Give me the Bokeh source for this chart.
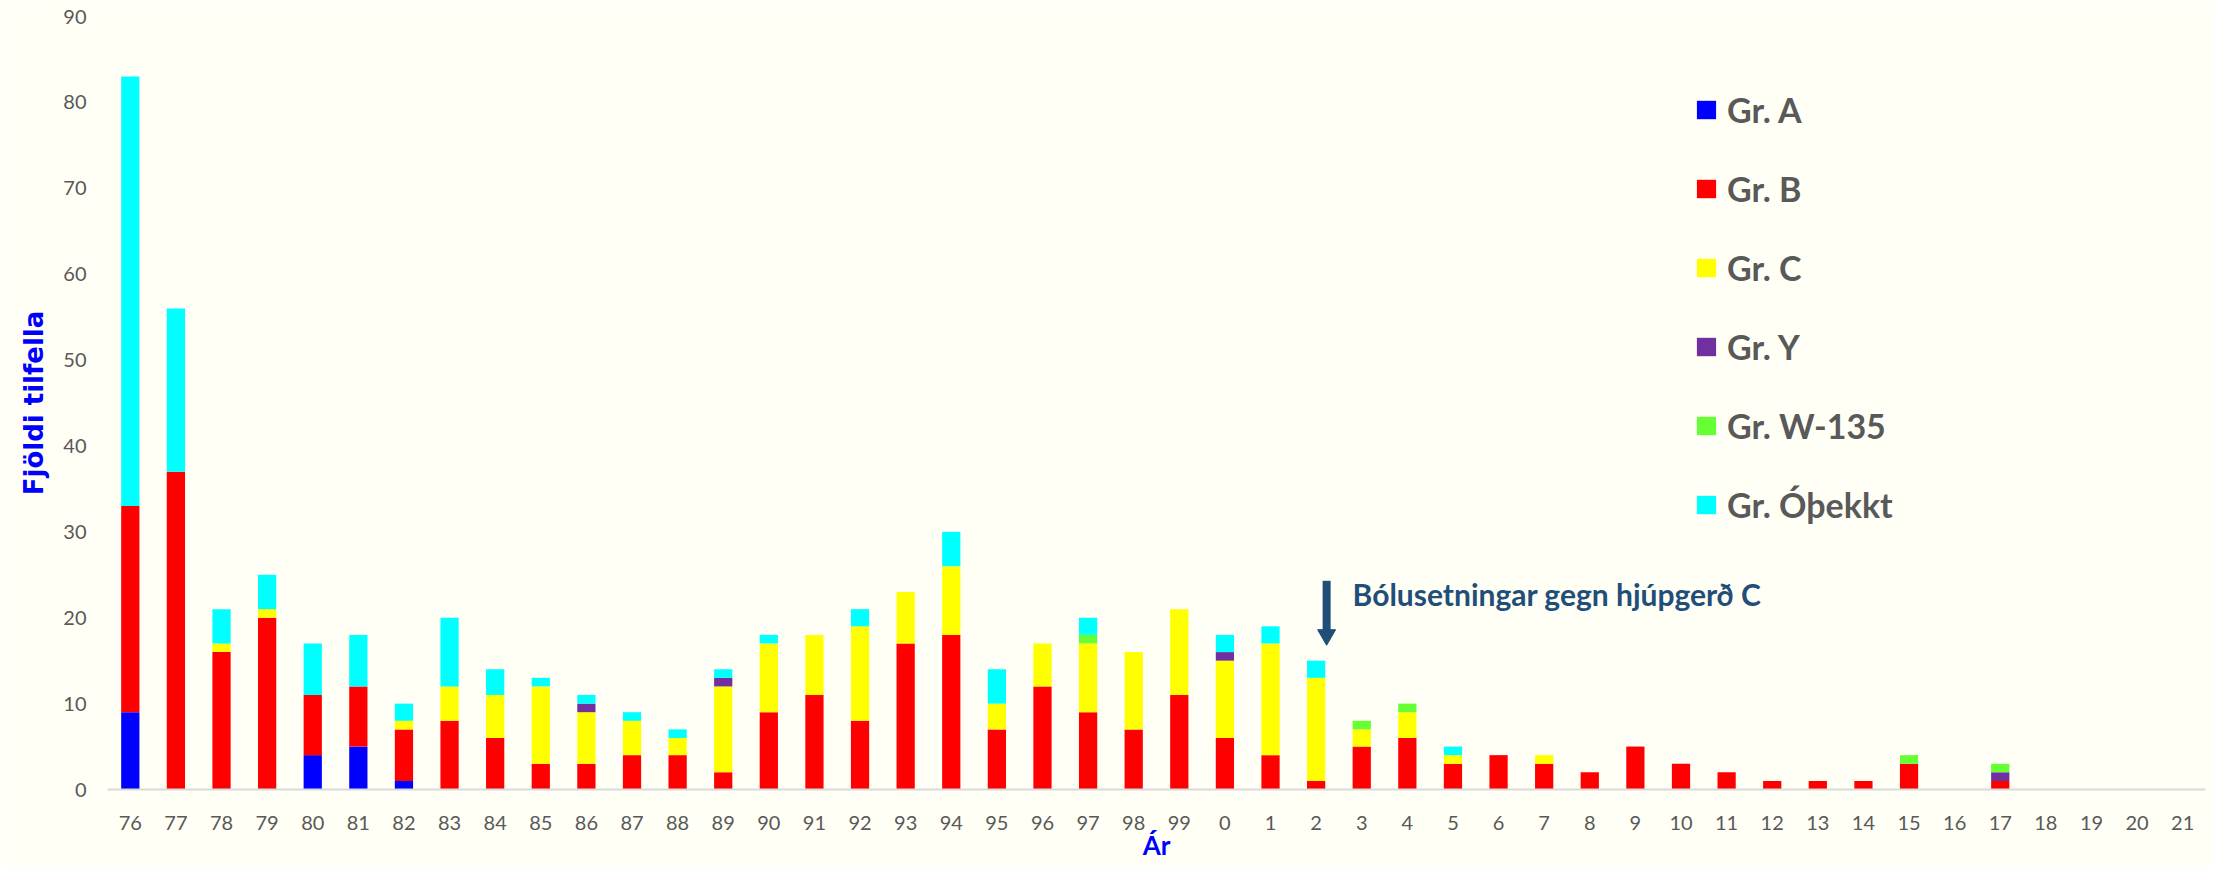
from bokeh.plotting import figure
from bokeh.models import (ColumnDataSource, FactorRange, Range1d, SingleIntervalTicker,
                          Legend, LegendItem)
from bokeh.transform import dodge
from bokeh.core.properties import value
from bokeh.embed import file_html
from bokeh.resources import INLINE

# ---------------- data ----------------
years = ["76", "77", "78", "79", "80", "81", "82", "83", "84", "85", "86", "87",
         "88", "89", "90", "91", "92", "93", "94", "95", "96", "97", "98", "99",
         "0", "1", "2", "3", "4", "5", "6", "7", "8", "9", "10", "11", "12", "13",
         "14", "15", "16", "17", "18", "19", "20", "21"]

gr_a = [9, 0, 0, 0, 4, 5, 1, 0, 0, 0, 0, 0, 0, 0, 0, 0, 0, 0, 0, 0, 0, 0, 0, 0,
        0, 0, 0, 0, 0, 0, 0, 0, 0, 0, 0, 0, 0, 0, 0, 0, 0, 0, 0, 0, 0, 0]
gr_b = [24, 37, 16, 20, 7, 7, 6, 8, 6, 3, 3, 4, 4, 2, 9, 11, 8, 17, 18, 7, 12, 9, 7, 11,
        6, 4, 1, 5, 6, 3, 4, 3, 2, 5, 3, 2, 1, 1, 1, 3, 0, 1, 0, 0, 0, 0]
gr_c = [0, 0, 1, 1, 0, 0, 1, 4, 5, 9, 6, 4, 2, 10, 8, 7, 11, 6, 8, 3, 5, 8, 9, 10,
        9, 13, 12, 2, 3, 1, 0, 1, 0, 0, 0, 0, 0, 0, 0, 0, 0, 0, 0, 0, 0, 0]
gr_y = [0, 0, 0, 0, 0, 0, 0, 0, 0, 0, 1, 0, 0, 1, 0, 0, 0, 0, 0, 0, 0, 0, 0, 0,
        1, 0, 0, 0, 0, 0, 0, 0, 0, 0, 0, 0, 0, 0, 0, 0, 0, 1, 0, 0, 0, 0]
gr_w = [0, 0, 0, 0, 0, 0, 0, 0, 0, 0, 0, 0, 0, 0, 0, 0, 0, 0, 0, 0, 0, 1, 0, 0,
        0, 0, 0, 1, 1, 0, 0, 0, 0, 0, 0, 0, 0, 0, 0, 1, 0, 1, 0, 0, 0, 0]
gr_u = [50, 19, 4, 4, 6, 6, 2, 8, 3, 1, 1, 1, 1, 1, 1, 0, 2, 0, 4, 4, 0, 2, 0, 0,
        2, 2, 2, 0, 0, 1, 0, 0, 0, 0, 0, 0, 0, 0, 0, 0, 0, 0, 0, 0, 0, 0]

series_keys = ["a", "b", "c", "y", "w", "u"]
series_names = ["Gr. A", "Gr. B", "Gr. C", "Gr. Y", "Gr. W-135", "Gr. Óþekkt"]
series_colors = ["#0000FF", "#FF0000", "#FFFF00", "#7030A0", "#66FF33", "#00FFFF"]

y_ticks_interval = 10
y_max = 90

# annotation (vaccination)
note_year = ["2"]
note_text = ["Bólusetningar gegn hjúpgerð C"]
note_arrow_top = [24.3]
note_arrow_head = [18.0]
note_text_y = [22.8]

# ---------------- figure ----------------
BG = "#FFFFF6"
GRAY = "#595959"
NAVY = "#1F4E79"

source = ColumnDataSource(dict(year=years, a=gr_a, b=gr_b, c=gr_c, y=gr_y, w=gr_w, u=gr_u))

p = figure(x_range=FactorRange(*years), y_range=Range1d(0, y_max),
           width=2213, height=866, output_backend="svg", toolbar_location=None,
           min_border_left=107, min_border_right=8, min_border_top=16, min_border_bottom=77,
           background_fill_color=BG, border_fill_color=BG, outline_line_color=None)

renderers = p.vbar_stack(series_keys, x="year", width=0.4, fill_color=series_colors,
                         line_color=None, source=source)

# grid / axes
p.xgrid.grid_line_color = None
p.ygrid.grid_line_color = None

p.yaxis.ticker = SingleIntervalTicker(interval=y_ticks_interval)
p.yaxis.axis_line_color = None
p.yaxis.major_tick_line_color = None
p.yaxis.minor_tick_line_color = None
p.yaxis.major_tick_out = 0
p.yaxis.minor_tick_out = 0
p.yaxis.major_label_standoff = 21
p.yaxis.major_label_text_font = "Lato"
p.yaxis.major_label_text_font_size = "20px"
p.yaxis.major_label_text_color = GRAY
p.yaxis.axis_label = "Fjöldi tilfella"
p.yaxis.axis_label_text_font = "DejaVu Sans"
p.yaxis.axis_label_text_font_style = "bold"
p.yaxis.axis_label_text_font_size = "26px"
p.yaxis.axis_label_text_color = "#0000FF"
p.yaxis.axis_label_standoff = 11

p.xaxis.axis_line_color = "#D9D9D9"
p.xaxis.axis_line_width = 2
p.xaxis.major_tick_line_color = None
p.xaxis.minor_tick_line_color = None
p.xaxis.major_tick_out = 0
p.xaxis.major_tick_in = 0
p.xaxis.major_label_standoff = 26
p.xaxis.major_label_text_font = "Lato"
p.xaxis.major_label_text_font_size = "20px"
p.xaxis.major_label_text_color = GRAY
p.xaxis.axis_label = "Ár"
p.xaxis.axis_label_text_font = "Lato"
p.xaxis.axis_label_text_font_style = "bold"
p.xaxis.axis_label_text_font_size = "26px"
p.xaxis.axis_label_text_color = "#0000FF"
p.xaxis.axis_label_standoff = -4

# legend
legend = Legend(items=[LegendItem(label=n, renderers=[r]) for n, r in zip(series_names, renderers)],
                location=(1587, 264), orientation="vertical",
                glyph_width=24, glyph_height=23, label_standoff=9, spacing=38,
                padding=0, margin=0, border_line_color=None, background_fill_alpha=0,
                label_text_font="Lato", label_text_font_style="bold",
                label_text_font_size="34px", label_text_color=GRAY, label_height=23)
p.add_layout(legend)

# annotation: arrow + text
note = ColumnDataSource(dict(x=note_year, top=note_arrow_top, head=note_arrow_head,
                             ty=note_text_y, label=note_text))
p.segment(x0=dodge("x", 0.23, range=p.x_range), y0="top",
          x1=dodge("x", 0.23, range=p.x_range), y1="head",
          line_width=8, line_color=NAVY, line_cap="butt", source=note)
p.scatter(x=dodge("x", 0.23, range=p.x_range), y="head", marker="inverted_triangle",
          size=18, fill_color=NAVY, line_color=NAVY, source=note)
p.text(x=dodge("x", 0.80, range=p.x_range), y="ty", text="label",
       text_font=value("Lato"), text_font_style="bold", text_font_size="30px",
       text_color=NAVY, text_baseline="middle", text_align="left", source=note)

open("out.html", "w").write(file_html(p, INLINE))
